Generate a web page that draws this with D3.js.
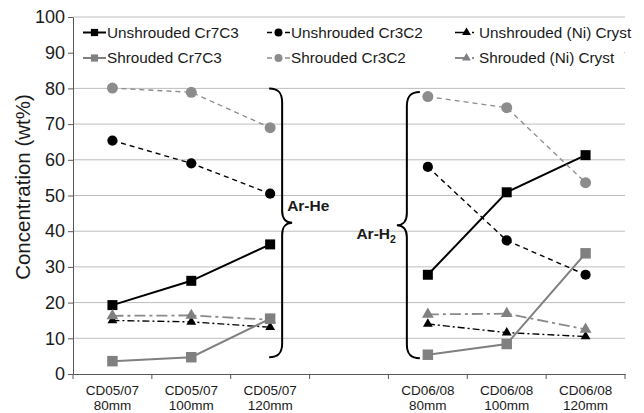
<!DOCTYPE html>
<html>
<head>
<meta charset="utf-8">
<script src="https://cdn.jsdelivr.net/npm/d3@7"></script>
<style>
  html, body { margin: 0; padding: 0; background: #fff; }
  svg { display: block; }
  text { font-family: "Liberation Sans", Arial, sans-serif; fill: #1a1a1a; }
</style>
</head>
<body>
<svg id="chart" width="644" height="413"></svg>
<script>
// Sample conditions along the x axis (the blank slot separates the two spray runs)
const categories = ["CD05/07|80mm", "CD05/07|100mm", "CD05/07|120mm", "",
                    "CD06/08|80mm", "CD06/08|100mm", "CD06/08|120mm"];

// Phase concentrations (wt%) per condition; null where no sample exists
const unshroudedCr7C3 = [19.3, 26.1, 36.3, null, 27.8, 50.9, 61.3];
const unshroudedCr3C2 = [65.4, 59.0, 50.5, null, 58.0, 37.4, 27.8];
const unshroudedNi    = [15.0, 14.6, 13.1, null, 14.0, 11.6, 10.5];
const shroudedCr7C3   = [3.6, 4.7, 15.5, null, 5.4, 8.4, 33.8];
const shroudedCr3C2   = [80.1, 78.9, 69.0, null, 77.7, 74.6, 53.6];
const shroudedNi      = [16.3, 16.4, 15.2, null, 16.7, 16.9, 12.5];

const yTicks = [0, 10, 20, 30, 40, 50, 60, 70, 80, 90, 100];

// Process-gas groupings: which category the brace sits beside and the value span it covers
const gasGroups = [
  { label: "Ar-He", sub: "",  side: "right", cat: 2, top: 80.0, bottom: 4.7 },
  { label: "Ar-H",  sub: "2", side: "left",  cat: 4, top: 79.0, bottom: 4.4 }
];

const series = [
  { name: "Unshrouded Cr7C3",       values: unshroudedCr7C3, color: "#000",    lineColor: "#000",    width: 2,   dash: null,         symbol: d3.symbolSquare,   size: 100, legSize: 52 },
  { name: "Unshrouded Cr3C2",       values: unshroudedCr3C2, color: "#000",    lineColor: "#000",    width: 1.4, dash: "5,4",        symbol: d3.symbolCircle,   size: 82,  legSize: 50 },
  { name: "Unshrouded (Ni) Cryst",  values: unshroudedNi,    color: "#000",    lineColor: "#000",    width: 1.4, dash: "7,3,2,3",    symbol: d3.symbolTriangle, size: 42,  legSize: 34 },
  { name: "Shrouded Cr7C3",         values: shroudedCr7C3,   color: "#808080", lineColor: "#808080", width: 2,   dash: null,         symbol: d3.symbolSquare,   size: 110, legSize: 52 },
  { name: "Shrouded Cr3C2",         values: shroudedCr3C2,   color: "#8c8c8c", lineColor: "#8c8c8c", width: 1.3, dash: "5,4",        symbol: d3.symbolCircle,   size: 95,  legSize: 50 },
  { name: "Shrouded (Ni) Cryst",    values: shroudedNi,      color: "#808080", lineColor: "#8a8a8a", width: 1.8, dash: "11,4,3,4",   symbol: d3.symbolTriangle, size: 60,  legSize: 34 }
];

const svg = d3.select("#chart");
const plotLeft = 73, plotRight = 625, plotTop = 17, plotBottom = 374;

const x = d3.scaleBand().domain(d3.range(categories.length)).range([plotLeft, plotRight]);
const y = d3.scaleLinear().domain([0, 100]).range([plotBottom, plotTop]);
const cx = i => x(i) + x.bandwidth() / 2;

// horizontal gridlines
svg.append("g")
  .selectAll("line")
  .data(yTicks.filter(t => t > 0))
  .join("line")
  .attr("x1", plotLeft).attr("x2", plotRight)
  .attr("y1", d => y(d)).attr("y2", d => y(d))
  .attr("stroke", "#bdbdbd").attr("stroke-width", 1);

// y axis
const yAxis = svg.append("g")
  .attr("transform", `translate(${plotLeft},0)`)
  .call(d3.axisLeft(y).tickValues(yTicks).tickSize(5).tickSizeOuter(0).tickPadding(3));
yAxis.select(".domain").attr("stroke", "#595959");
yAxis.selectAll(".tick line").attr("stroke", "#595959");
yAxis.selectAll(".tick text")
  .attr("font-family", "'Liberation Sans', Arial, sans-serif")
  .attr("font-size", 18).attr("fill", "#1a1a1a");

// x axis: boundary ticks between categories, two-line labels at band centres
const xAxis = svg.append("g")
  .attr("transform", `translate(0,${plotBottom})`)
  .call(d3.axisBottom(x).tickSize(0).tickSizeOuter(0).tickFormat(() => ""));
xAxis.select(".domain").attr("stroke", "#595959");
xAxis.selectAll(".tick").remove();

const bounds = d3.range(categories.length + 1).map(i => plotLeft + i * x.step());
xAxis.selectAll("line.bound")
  .data(bounds)
  .join("line")
  .attr("class", "bound")
  .attr("x1", d => d).attr("x2", d => d)
  .attr("y1", 0).attr("y2", 5)
  .attr("stroke", "#595959");

const xLabels = svg.append("g")
  .selectAll("text")
  .data(categories.map((c, i) => ({ c, i })).filter(d => d.c))
  .join("text")
  .attr("text-anchor", "middle")
  .attr("font-size", 13.5)
  .attr("x", d => cx(d.i))
  .attr("y", 395);
xLabels.selectAll("tspan")
  .data(d => d.c.split("|").map((t, k) => ({ t, k, x: cx(d.i) })))
  .join("tspan")
  .attr("x", d => d.x)
  .attr("dy", d => d.k === 0 ? 0 : 14.5)
  .text(d => d.t);

// y axis title
svg.append("text")
  .attr("transform", `translate(30,187) rotate(-90)`)
  .attr("text-anchor", "middle")
  .attr("font-size", 20.5)
  .text("Concentration (wt%)");

// series lines and markers
const line = d3.line()
  .defined(d => d.v !== null)
  .x(d => cx(d.i))
  .y(d => y(d.v));

series.forEach(s => {
  const pts = s.values.map((v, i) => ({ v, i }));
  svg.append("path")
    .datum(pts)
    .attr("d", line)
    .attr("fill", "none")
    .attr("stroke", s.lineColor)
    .attr("stroke-width", s.width)
    .attr("stroke-dasharray", s.dash);
});
series.forEach(s => {
  const pts = s.values.map((v, i) => ({ v, i })).filter(d => d.v !== null);
  svg.append("g")
    .selectAll("path")
    .data(pts)
    .join("path")
    .attr("d", d3.symbol().type(s.symbol).size(s.size))
    .attr("transform", d => `translate(${cx(d.i)},${y(d.v)})`)
    .attr("fill", s.color);
});

// braces marking the process gas of each run
gasGroups.forEach(g => {
  const y0 = y(g.top), y1 = y(g.bottom), ym = (y0 + y1) / 2;
  const dir = g.side === "right" ? 1 : -1;
  const xv = g.side === "right" ? cx(g.cat) + 12 : cx(g.cat) - 21;
  const xe = xv - dir * 13;     // curled ends
  const xp = xv + dir * 10;     // central point
  const p = d3.path();
  p.moveTo(xe, y0);
  p.bezierCurveTo(xv - dir * 4, y0, xv, y0 + 4, xv, y0 + 14);
  p.lineTo(xv, ym - 12);
  p.bezierCurveTo(xv, ym - 4, xv + dir * 4, ym, xp, ym);
  p.bezierCurveTo(xv + dir * 4, ym, xv, ym + 4, xv, ym + 12);
  p.lineTo(xv, y1 - 14);
  p.bezierCurveTo(xv, y1 - 4, xv - dir * 4, y1, xe, y1);
  svg.append("path")
    .attr("d", p.toString())
    .attr("fill", "none")
    .attr("stroke", "#000")
    .attr("stroke-width", 2);

  const t = svg.append("text")
    .attr("font-family", "Lato, 'Liberation Sans', sans-serif")
    .attr("font-weight", "bold")
    .attr("font-size", 15.5)
    .attr("fill", "#000")
    .attr("text-anchor", g.side === "right" ? "start" : "end")
    .attr("x", g.side === "right" ? xp - 5 : xp - 1)
    .attr("y", g.side === "right" ? ym - 12 : ym + 14);
  t.append("tspan").text(g.label);
  if (g.sub) {
    t.append("tspan").attr("font-size", 10.5).attr("dy", 4).text(g.sub);
  }
});

// legend on a white panel over the top gridlines
const legend = svg.append("g");
legend.append("rect")
  .attr("x", plotLeft + 1).attr("y", 20)
  .attr("width", plotRight - plotLeft - 2).attr("height", 52)
  .attr("fill", "#fff");

const colX = [83, 267, 455];
series.forEach((s, k) => {
  const col = k % 3, row = Math.floor(k / 3);
  const x0 = colX[col], ly = 32.5 + row * 25.5;
  const gItem = legend.append("g");
  gItem.append("line")
    .attr("x1", x0).attr("x2", x0 + 23)
    .attr("y1", ly).attr("y2", ly)
    .attr("stroke", s.lineColor)
    .attr("stroke-width", s.width)
    .attr("stroke-dasharray", s.dash ? (col === 2 ? "12,5,2,4" : "5,4") : null);
  gItem.append("path")
    .attr("d", d3.symbol().type(s.symbol).size(s.legSize))
    .attr("transform", `translate(${x0 + 11.5},${ly})`)
    .attr("fill", s.color);
  gItem.append("text")
    .attr("x", x0 + 24)
    .attr("y", ly + 5.3)
    .attr("font-size", 15.3)
    .text(s.name);
});
</script>
</body>
</html>
